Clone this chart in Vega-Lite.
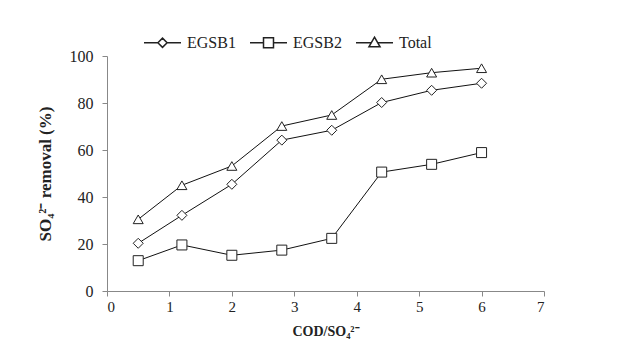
{
  "$schema": "https://vega.github.io/schema/vega-lite/v6.json",
  "width": 437,
  "height": 235,
  "autosize": "none",
  "padding": {"left": 107, "top": 56, "right": 74, "bottom": 54},
  "background": "white",
  "config": {"view": {"stroke": null}, "font": "Liberation Serif"},
  "data": {
    "values": [
      {"ratio": 0.5, "removal": 20.3, "series": "EGSB1"},
      {"ratio": 1.2, "removal": 32.2, "series": "EGSB1"},
      {"ratio": 2.0, "removal": 45.4, "series": "EGSB1"},
      {"ratio": 2.8, "removal": 64.2, "series": "EGSB1"},
      {"ratio": 3.6, "removal": 68.4, "series": "EGSB1"},
      {"ratio": 4.4, "removal": 80.2, "series": "EGSB1"},
      {"ratio": 5.2, "removal": 85.4, "series": "EGSB1"},
      {"ratio": 6.0, "removal": 88.4, "series": "EGSB1"},
      {"ratio": 0.5, "removal": 12.9, "series": "EGSB2"},
      {"ratio": 1.2, "removal": 19.6, "series": "EGSB2"},
      {"ratio": 2.0, "removal": 15.2, "series": "EGSB2"},
      {"ratio": 2.8, "removal": 17.4, "series": "EGSB2"},
      {"ratio": 3.6, "removal": 22.4, "series": "EGSB2"},
      {"ratio": 4.4, "removal": 50.6, "series": "EGSB2"},
      {"ratio": 5.2, "removal": 53.9, "series": "EGSB2"},
      {"ratio": 6.0, "removal": 58.9, "series": "EGSB2"},
      {"ratio": 0.5, "removal": 30.5, "series": "Total"},
      {"ratio": 1.2, "removal": 45.0, "series": "Total"},
      {"ratio": 2.0, "removal": 53.2, "series": "Total"},
      {"ratio": 2.8, "removal": 70.2, "series": "Total"},
      {"ratio": 3.6, "removal": 74.9, "series": "Total"},
      {"ratio": 4.4, "removal": 90.1, "series": "Total"},
      {"ratio": 5.2, "removal": 92.9, "series": "Total"},
      {"ratio": 6.0, "removal": 94.8, "series": "Total"}
    ]
  },
  "encoding": {
    "x": {
      "field": "ratio",
      "type": "quantitative",
      "scale": {"domain": [0, 7], "nice": false},
      "axis": {
        "values": [0, 1, 2, 3, 4, 5, 6, 7],
        "grid": false,
        "domainColor": "#888",
        "tickColor": "#888",
        "tickSize": 5,
        "labelFont": "Liberation Serif",
        "labelFontSize": 15,
        "labelColor": "#222",
        "labelPadding": 3,
        "title": "COD/SO₄²⁻",
        "titleFont": "Liberation Serif",
        "titleFontSize": 14,
        "titleFontWeight": "bold",
        "titleColor": "#222",
        "titleBaseline": "alphabetic",
        "titleY": 44
      }
    },
    "y": {
      "field": "removal",
      "type": "quantitative",
      "scale": {"domain": [0, 100], "nice": false},
      "axis": {
        "values": [0, 20, 40, 60, 80, 100],
        "grid": false,
        "domainColor": "#888",
        "tickColor": "#888",
        "tickSize": 5,
        "labelFont": "Liberation Serif",
        "labelFontSize": 16,
        "labelColor": "#222",
        "labelPadding": 9,
        "title": "SO₄²⁻ removal (%)",
        "titleFont": "Liberation Serif",
        "titleFontSize": 17,
        "titleFontWeight": "bold",
        "titleColor": "#222",
        "titleBaseline": "alphabetic",
        "titleX": -57
      }
    }
  },
  "resolve": {"scale": {"shape": "independent"}, "legend": {"shape": "independent"}},
  "layer": [
    {
      "mark": {"type": "line", "color": "#111", "strokeWidth": 1},
      "encoding": {"detail": {"field": "series"}}
    },
    {
      "mark": {"type": "point", "filled": true, "fill": "white", "stroke": "#222", "strokeWidth": 1, "opacity": 1, "size": 100},
      "encoding": {
        "shape": {
          "field": "series",
          "type": "nominal",
          "scale": {"domain": ["EGSB1", "EGSB2", "Total"], "range": ["diamond", "square", "triangle-up"]},
          "legend": null
        }
      }
    },
    {
      "mark": {"type": "point", "filled": true, "fill": "white", "stroke": "#222", "strokeWidth": 1, "opacity": 1, "size": 0},
      "encoding": {
        "shape": {
          "field": "series",
          "type": "nominal",
          "scale": {
            "domain": ["EGSB1", "EGSB2", "Total"],
            "range": [
              "M-1,0L-0.25,0M0.25,0L1,0M-0.25,0L0,-0.25L0.25,0L0,0.25Z",
              "M-1,0L-0.27,0M0.27,0L1,0M-0.27,-0.27L0.27,-0.27L0.27,0.27L-0.27,0.27Z",
              "M-1,0L-0.17,0M0.17,0L1,0M0,-0.3L0.3,0.22L-0.3,0.22Z"
            ]
          },
          "legend": {
            "orient": "none",
            "legendX": 36,
            "legendY": -33,
            "direction": "horizontal",
            "title": null,
            "padding": 0,
            "symbolSize": 1369,
            "labelFont": "Liberation Serif",
            "labelFontSize": 16,
            "labelColor": "#222",
            "labelOffset": 5,
            "columnPadding": 11,
            "encode": {
              "symbols": {
                "fill": {"value": "white"},
                "stroke": {"value": "#222"},
                "strokeWidth": {"value": 1},
                "opacity": {"value": 1},
                "size": {"value": 1369}
              }
            }
          }
        }
      }
    }
  ]
}
